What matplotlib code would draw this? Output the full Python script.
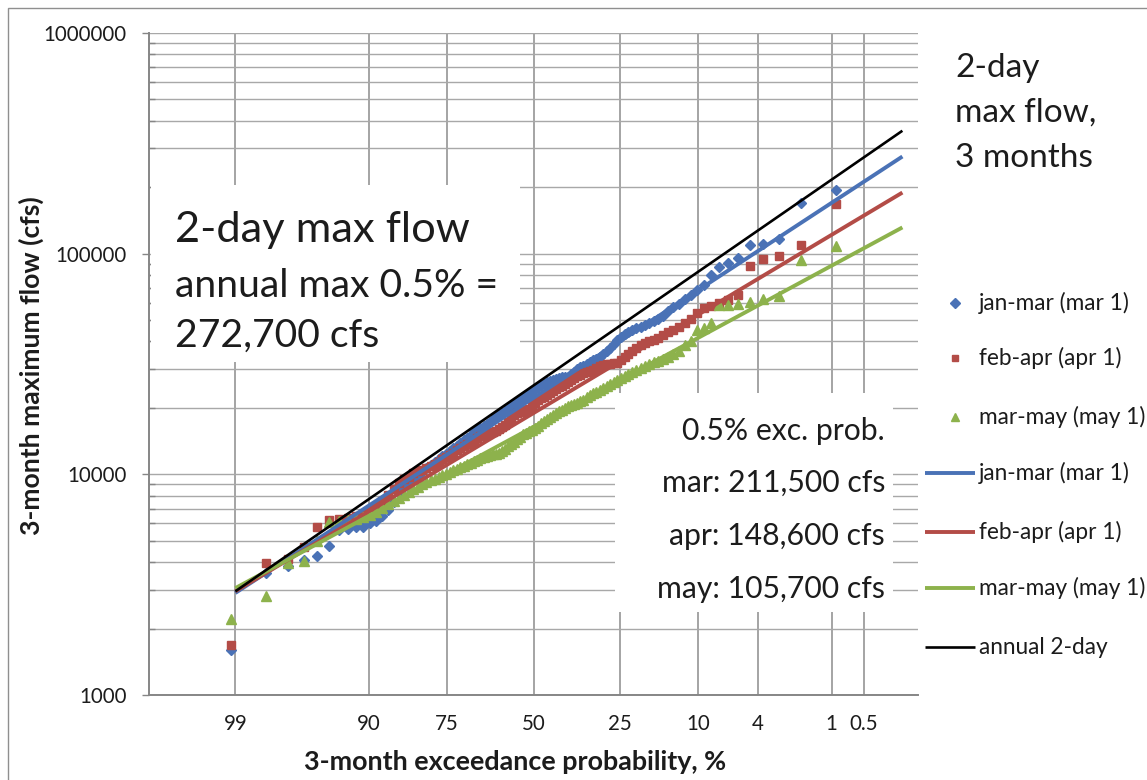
import numpy as np
import matplotlib
matplotlib.use("Agg")
import matplotlib.pyplot as plt
from matplotlib.lines import Line2D
from matplotlib.patches import Rectangle
from matplotlib.ticker import LogLocator, NullLocator, FuncFormatter, NullFormatter
from statistics import NormalDist

plt.rcParams["font.family"] = ["Lato", "DejaVu Sans"]

# ---------------------------------------------------------------- data
# ranked 2-day maximum flows (cfs) for each 3-month window, largest first
jan_mar = [194400, 169200, 116900, 111000, 109300, 95200, 90300, 86600, 80000, 72000,
           68600, 64900, 62400, 59200, 57200, 54900, 52300, 50700, 49700, 48600,
           47700, 46700, 46000, 45100, 44100, 43200, 41800, 40600, 39160, 37500,
           36100, 34950, 34100, 33440, 32900, 32260, 31670, 31120, 30550, 30020,
           29200, 28430, 27750, 27600, 27500, 27340, 27070, 26800, 26530, 26210,
           25780, 25350, 24810, 24400, 23870, 23150, 22560, 22140, 21830, 21470,
           20960, 20360, 19750, 19320, 19030, 18760, 18350, 17820, 17220, 16840,
           16530, 16240, 15910, 15500, 15080, 14650, 14290, 13870, 13500, 13200,
           12790, 12420, 12070, 11740, 11430, 11030, 10660, 10290, 9930, 9550,
           9170, 8760, 8260, 7500, 6890, 6460, 6150, 6040, 5790, 5780,
           5630, 5580, 4720, 4260, 4070, 3830, 3580, 1600]

feb_apr = [168000, 109500, 97500, 94500, 88000, 65000, 61700, 59500, 58000, 56500,
           53620, 50600, 48430, 46450, 45200, 44230, 42960, 41620, 40770, 40400,
           39430, 38500, 37560, 36330, 35060, 33950, 32980, 32030, 31830, 31770,
           31570, 31280, 30870, 30280, 29800, 29420, 29080, 28840, 28320, 27820,
           27190, 26720, 26190, 25760, 25190, 24750, 24290, 23760, 23250, 22870,
           22490, 22080, 21610, 21060, 20410, 19800, 19470, 19280, 19100, 18870,
           18600, 17980, 17330, 16760, 16310, 15970, 15760, 15630, 15490, 15290,
           15080, 14850, 14550, 14230, 13910, 13670, 13400, 13130, 12830, 12550,
           12270, 12000, 11680, 11390, 11120, 10900, 10660, 10490, 10400, 10100,
           9700, 9500, 9150, 8600, 8100, 7600, 7200, 6900, 6600, 6450,
           6350, 6250, 6200, 5790, 4700, 4120, 3950, 1690]

mar_may = [108500, 93500, 64500, 62300, 60500, 59000, 58600, 58300, 48300, 46000,
           45000, 40210, 38470, 36310, 35090, 34170, 33360, 32760, 32250, 31730,
           31110, 30380, 29700, 29000, 28430, 27910, 27430, 26890, 26300, 25770,
           25190, 24680, 24190, 23720, 23290, 22780, 22320, 21830, 21430, 21150,
           20860, 20590, 20330, 19990, 19640, 19300, 18940, 18570, 18220, 17840,
           17420, 17020, 16620, 16270, 15950, 15730, 15460, 15180, 14830, 14450,
           14080, 13710, 13390, 13070, 12780, 12540, 12410, 12300, 12190, 12080,
           11980, 11850, 11660, 11460, 11280, 11110, 10940, 10770, 10600, 10430,
           10250, 10070, 9900, 9720, 9570, 9390, 9200, 9010, 8770, 8550,
           8300, 8080, 7830, 7590, 7340, 7050, 6780, 6550, 6400, 6300,
           6220, 6150, 6100, 5000, 4060, 3950, 2810, 2200]

# fitted log-normal lines, evaluated at these exceedance probabilities (%)
fit_exceed = [99, 0.5, 0.2]
fit_jan_mar = [2900, 211500, 275600]
fit_feb_apr = [2950, 148600, 189200]
fit_mar_may = [3050, 105700, 131500]
annual_2day = [2950, 272700, 360600]

prob_ticks = [99, 90, 75, 50, 25, 10, 4, 1, 0.5]
prob_labels = ["99", "90", "75", "50", "25", "10", "4", "1", "0.5"]

series_labels = ["jan-mar (mar 1)", "feb-apr (apr 1)", "mar-may (may 1)"]
annual_label = "annual 2-day"

BLUE, RED, GREEN = "#4A72B6", "#B34C47", "#8DB24C"
TEXT = "#1c1c1c"
AXIS = "#868686"

# ---------------------------------------------------------------- figure
W, H = 1147, 780
fig = plt.figure(figsize=(W / 100, H / 100), dpi=100)
fig.patch.set_facecolor("white")
renderer = fig.canvas.get_renderer()


def fx(x):
    return x / W


def fy(y):
    return 1 - y / H


def fit_text(t, target_px, vertical=False):
    """Rescale a text so that its extent spans target_px pixels."""
    bb = t.get_window_extent(renderer=renderer)
    cur = bb.height if vertical else bb.width
    t.set_fontsize(t.get_fontsize() * target_px / cur)
    return t.get_fontsize()


# thin frame around the chart
fig.patches.append(Rectangle((fx(8), -0.05), 1.2, fy(8) + 0.05, transform=fig.transFigure,
                             fill=False, edgecolor="#8f8f8f", lw=1.0))

ax = fig.add_axes([fx(149), fy(695), (918 - 149) / W, (695 - 33) / H])

# normal-probability scale for the exceedance axis
_nd = NormalDist()
_ppf = np.vectorize(_nd.inv_cdf, otypes=[float])
_cdf = np.vectorize(_nd.cdf, otypes=[float])


def prob_fwd(p):
    p = np.clip(np.asarray(p, dtype=float), 1e-7, 100 - 1e-7)
    return _ppf(p / 100)


def prob_inv(z):
    return 100 * _cdf(np.asarray(z, dtype=float))


ax.set_xscale("function", functions=(prob_fwd, prob_inv))
ax.set_yscale("log")
# high exceedance on the left
ax.set_xlim(float(prob_inv(3.0)), float(prob_inv(-3.0)))
ax.set_ylim(1e3, 1e6)

# tick label size chosen so "1000000" is ~84 px wide
probe = fig.text(0, 0, "1000000", fontsize=14)
tick_size = fit_text(probe, 84)
probe.remove()

ax.set_xticks(prob_ticks)
ax.set_xticklabels(prob_labels)
ax.xaxis.set_minor_locator(NullLocator())
ax.tick_params(axis="x", length=0, pad=14, labelsize=tick_size, labelcolor=TEXT)

ax.yaxis.set_major_locator(LogLocator(base=10))
ax.yaxis.set_minor_locator(LogLocator(base=10, subs=np.arange(2, 10)))
ax.yaxis.set_major_formatter(FuncFormatter(lambda v, _: f"{v:.0f}"))
ax.yaxis.set_minor_formatter(NullFormatter())
ax.tick_params(axis="y", which="major", direction="out", length=5, width=1.0, color=AXIS,
               labelsize=tick_size, labelcolor=TEXT, pad=11)
ax.tick_params(axis="y", which="minor", direction="in", length=4, width=1.0, color=AXIS)

ax.set_axisbelow(True)
ax.grid(True, axis="y", which="both", color="#a8a8a8", lw=1.0)
ax.grid(True, axis="x", which="major", color="#8c8c8c", lw=1.1)
for side in ("top", "right"):
    ax.spines[side].set_visible(False)
for side in ("left", "bottom"):
    ax.spines[side].set_color(AXIS)
    ax.spines[side].set_linewidth(1.4)

# white panels behind the annotation blocks
for (x0, y0, x1, y1) in [(151, 185, 520, 362), (615, 393, 893, 612)]:
    ax.add_patch(Rectangle((fx(x0), fy(y1)), (x1 - x0) / W, (y1 - y0) / H,
                           transform=fig.transFigure, facecolor="white",
                           edgecolor="none", zorder=1))

# ranked observations at Weibull plotting positions
n = len(jan_mar)
exceed = np.arange(1, n + 1) / (n + 1) * 100

ax.plot(exceed, jan_mar, ls="none", marker="D", ms=5.5, color=BLUE, zorder=2)
ax.plot(exceed, feb_apr, ls="none", marker="s", ms=5.5, color=RED, zorder=2)
ax.plot(exceed, mar_may, ls="none", marker="^", ms=6.5, color=GREEN, zorder=2)

ax.plot(fit_exceed, fit_jan_mar, color=BLUE, lw=2.8, zorder=3, solid_capstyle="butt")
ax.plot(fit_exceed, fit_feb_apr, color=RED, lw=2.8, zorder=3, solid_capstyle="butt")
ax.plot(fit_exceed, fit_mar_may, color=GREEN, lw=2.8, zorder=3, solid_capstyle="butt")
ax.plot(fit_exceed, annual_2day, color="black", lw=1.9, zorder=4, solid_capstyle="butt")

# axis titles
xl = fig.text(fx(515), fy(762), "3-month exceedance probability, %", ha="center",
              va="center", fontsize=17, fontweight="bold", color=TEXT)
fit_text(xl, 424)
yl = fig.text(fx(31), fy(366), "3-month maximum flow (cfs)", ha="center", va="center",
              rotation=90, fontsize=17, fontweight="bold", color=TEXT)
fit_text(yl, 338, vertical=True)

# annotation block, upper left
t_ann = fig.text(fx(175), fy(297), "annual max 0.5% =", fontsize=26, va="baseline",
                 color=TEXT)
ann_size = fit_text(t_ann, 323)
fig.text(fx(175), fy(242), "2-day max flow", fontsize=ann_size * 1.11, va="baseline",
         color=TEXT)
fig.text(fx(175), fy(347), "272,700 cfs", fontsize=ann_size, va="baseline", color=TEXT)

# annotation block, lower right
probe = fig.text(0, 0, "mar: 211,500 cfs", fontsize=22)
exc_size = fit_text(probe, 223)
probe.remove()
for txt, yb in [("0.5% exc. prob.", 440), ("mar: 211,500 cfs", 492),
                ("apr: 148,600 cfs", 545), ("may: 105,700 cfs", 598)]:
    fig.text(fx(885), fy(yb), txt, fontsize=exc_size, ha="right", va="baseline", color=TEXT)

# chart title, upper right
for txt, yb in [("2-day", 77), ("max flow,", 122), ("3 months", 167)]:
    fig.text(fx(955), fy(yb), txt, fontsize=24, ha="left", va="baseline", color=TEXT)

# legend entries (key + label), laid out in figure pixels
probe = fig.text(0, 0, series_labels[0], fontsize=14)
leg_size = fit_text(probe, 152)
probe.remove()

keys = [
    dict(ls="none", marker="D", ms=5, color=BLUE),
    dict(ls="none", marker="s", ms=5, color=RED),
    dict(ls="none", marker="^", ms=6, color=GREEN),
    dict(color=BLUE, lw=2.8),
    dict(color=RED, lw=2.8),
    dict(color=GREEN, lw=2.8),
    dict(color="black", lw=1.9),
]
labels = series_labels + series_labels + [annual_label]
row_y = [303, 358, 417, 473, 532, 588, 647]
for style, label, yc in zip(keys, labels, row_y):
    if style.get("ls") == "none":
        xs = [fx(955)]
    else:
        xs = [fx(925), fx(975)]
    fig.add_artist(Line2D(xs, [fy(yc)] * len(xs), transform=fig.transFigure,
                          solid_capstyle="butt", **style))
    fig.text(fx(979), fy(yc), label, fontsize=leg_size, ha="left", va="center",
             color=TEXT)

fig.savefig("out.png", dpi=100, facecolor="white")
